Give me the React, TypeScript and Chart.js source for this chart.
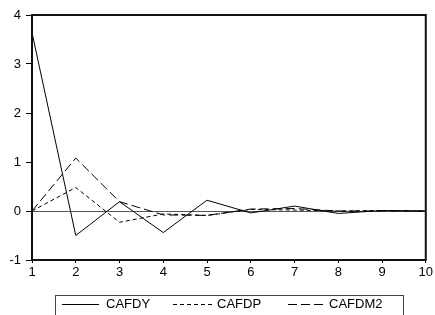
import React, { useEffect, useRef } from "react";
import { Chart, registerables } from "chart.js";

Chart.register(...registerables);

const categories = ["1", "2", "3", "4", "5", "6", "7", "8", "9", "10"];
const cafdy = [3.64, -0.5, 0.19, -0.44, 0.22, -0.04, 0.1, -0.05, 0.01, 0.0];
const cafdp = [0.0, 0.48, -0.23, -0.06, -0.09, 0.03, 0.02, 0.0, 0.01, 0.0];
const cafdm2 = [0.0, 1.08, 0.19, -0.08, -0.09, 0.04, 0.05, 0.0, 0.0, 0.0];
const seriesNames = ["CAFDY", "CAFDP", "CAFDM2"];

const FONT = "'Liberation Sans', Arial, sans-serif";

const framePlugin = {
  id: "frame",
  beforeDatasetsDraw(chart: any) {
    const { ctx, chartArea, scales } = chart;
    const y0 = scales.y.getPixelForValue(0);
    ctx.save();
    ctx.strokeStyle = "#555";
    ctx.lineWidth = 1;
    ctx.beginPath();
    ctx.moveTo(chartArea.left, Math.round(y0) + 0.5);
    ctx.lineTo(chartArea.right, Math.round(y0) + 0.5);
    ctx.stroke();
    ctx.restore();
  },
  afterDraw(chart: any) {
    const { ctx, chartArea } = chart;
    ctx.save();
    ctx.strokeStyle = "#111";
    ctx.lineWidth = 2;
    ctx.strokeRect(chartArea.left, chartArea.top, chartArea.right - chartArea.left, chartArea.bottom - chartArea.top);
    // legend box
    const bx = 55, by = 295, bw = 348, bh = 30;
    ctx.lineWidth = 1;
    ctx.strokeStyle = "#444";
    ctx.strokeRect(bx + 0.5, by + 0.5, bw, bh);
    const items = [
      { x0: 62, x1: 99, tx: 106 },
      { x0: 173, x1: 213, tx: 217 },
      { x0: 288, x1: 325, tx: 329 },
    ];
    const ly = 304;
    chart.data.datasets.forEach((ds: any, i: number) => {
      const it = items[i];
      ctx.strokeStyle = "#000";
      ctx.setLineDash(ds.borderDash || []);
      ctx.beginPath();
      ctx.moveTo(it.x0, ly + 0.5);
      ctx.lineTo(it.x1, ly + 0.5);
      ctx.stroke();
      ctx.setLineDash([]);
      ctx.fillStyle = "#000";
      ctx.font = "13px " + FONT;
      ctx.textBaseline = "middle";
      ctx.textAlign = "left";
      ctx.fillText(ds.label, it.tx, ly);
    });
    ctx.restore();
  },
};

export default function App() {
  const ref = useRef<HTMLCanvasElement>(null);
  useEffect(() => {
    if (!ref.current) return;
    const chart = new Chart(ref.current, {
      type: "line",
      data: {
        labels: categories,
        datasets: [
          { label: seriesNames[0], data: cafdy, borderColor: "#000", borderWidth: 1, pointRadius: 0, tension: 0, fill: false },
          { label: seriesNames[1], data: cafdp, borderColor: "#000", borderWidth: 1, borderDash: [4, 3], pointRadius: 0, tension: 0, fill: false },
          { label: seriesNames[2], data: cafdm2, borderColor: "#000", borderWidth: 1, borderDash: [9, 4], pointRadius: 0, tension: 0, fill: false },
        ],
      },
      options: {
        animation: false,
        responsive: false,
        maintainAspectRatio: false,
        devicePixelRatio: 1,
        layout: { padding: { top: 15, right: 9, left: 0, bottom: 0 } },
        plugins: { legend: { display: false }, tooltip: { enabled: false } },
        scales: {
          x: {
            type: "category",
            offset: false,
            border: { display: false },
            grid: { display: true, drawOnChartArea: false, drawTicks: true, tickLength: 3, color: "#000" },
            ticks: { color: "#000", font: { family: FONT, size: 13 }, padding: 2, maxRotation: 0, autoSkip: false },
            afterFit: (s: any) => { s.height = 55; },
          },
          y: {
            min: -1,
            max: 4,
            border: { display: false },
            grid: { display: true, drawOnChartArea: false, drawTicks: true, tickLength: 6, color: "#000" },
            ticks: { stepSize: 1, color: "#000", font: { family: FONT, size: 13 }, padding: 5 },
            afterFit: (s: any) => { s.width = 32; },
          },
        },
      },
      plugins: [framePlugin],
    });
    return () => chart.destroy();
  }, []);
  return (
    <div style={{ position: "fixed", left: 0, top: 0, width: 435, height: 315, background: "#fff" }}>
      <canvas ref={ref} width={435} height={315} style={{ width: 435, height: 315 }} />
    </div>
  );
}
